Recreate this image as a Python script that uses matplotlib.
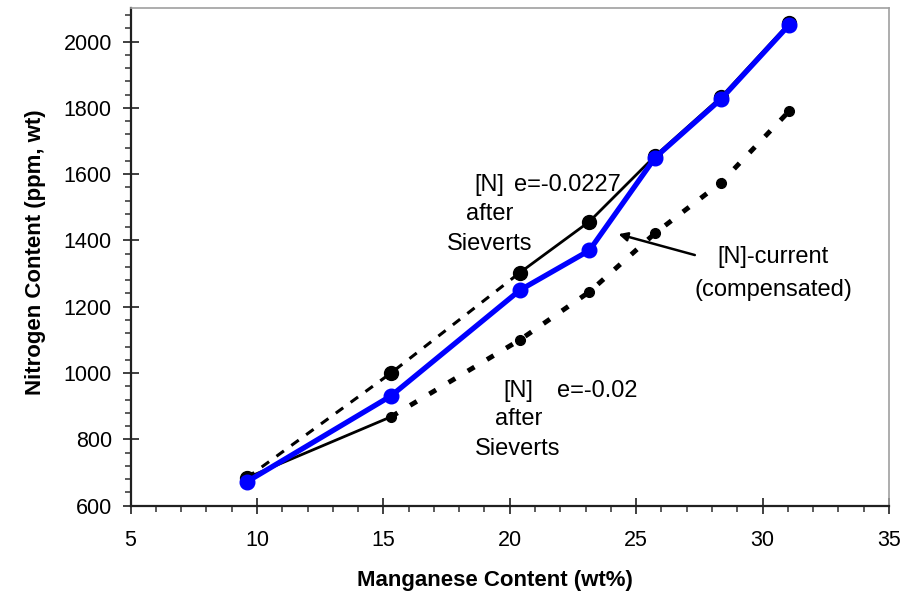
import numpy as np
import matplotlib
matplotlib.use('Agg')
import matplotlib.pyplot as plt

plt.rcParams['font.family'] = ['Liberation Sans', 'DejaVu Sans']

# manganese content, wt%
mn = [9.6, 15.3, 20.4, 23.15, 25.75, 28.35, 31.05]
# [N] after Sieverts, e = -0.0227
n_e0227 = [684, 1000, 1303, 1457, 1655, 1832, 2055]
# [N] after Sieverts, e = -0.02
n_e002 = [684, 868, 1100, 1245, 1422, 1574, 1790]
# [N]-current (compensated)
n_comp = [672, 931, 1250, 1370, 1650, 1826, 2050]

xticks = [5, 10, 15, 20, 25, 30, 35]
yticks = [600, 800, 1000, 1200, 1400, 1600, 1800, 2000]


def main():
    fig = plt.figure(figsize=(9.09, 5.99), dpi=100)
    ax = fig.add_axes([0.1436, 0.1558, 0.978 - 0.1436, 0.986 - 0.1558])

    # e=-0.0227 series: dashed for first two segments, solid afterwards
    ax.plot(mn[:3], n_e0227[:3], color='black', lw=2.2,
            linestyle=(0, (3, 3)), zorder=2)
    ax.plot(mn[2:], n_e0227[2:], color='black', lw=2.0, zorder=2)
    ax.plot(mn, n_e0227, 'o', color='black', ms=10, zorder=3)

    # e=-0.02 series: solid first segment, heavy dashes afterwards
    ax.plot(mn[:2], n_e002[:2], color='black', lw=2.0, zorder=2)
    ax.plot(mn[1:], n_e002[1:], color='black', lw=3.5,
            linestyle=(0, (1.6, 3.0)), zorder=2)
    ax.plot(mn[1:], n_e002[1:], 'o', color='black', ms=7, zorder=3)

    # compensated
    ax.plot(mn, n_comp, '-o', color='#0000ff', lw=3.8, ms=10.5,
            mec='#0000ff', zorder=4)

    ax.set_xlim(5, 35)
    ax.set_ylim(600, 2100)
    ax.set_xticks(xticks)
    ax.set_yticks(yticks)
    ax.set_xticks(np.arange(5, 36, 1), minor=True)
    ax.set_yticks(np.arange(600, 2101, 40), minor=True)
    ax.tick_params(which='major', direction='inout', length=11, width=1.2,
                   color='#202020', labelsize=15.5)
    ax.tick_params(which='minor', direction='out', length=4, width=1.2,
                   color='#404040')
    ax.tick_params(axis='x', which='major', pad=12)
    ax.tick_params(axis='y', which='major', pad=8)

    for side in ['top', 'right']:
        ax.spines[side].set_color('#a0a0a0')
        ax.spines[side].set_linewidth(1.2)
    for side in ['left', 'bottom']:
        ax.spines[side].set_color('#202020')
        ax.spines[side].set_linewidth(1.6)

    ax.set_xlabel('Manganese Content (wt%)', fontsize=16, fontweight='bold')
    ax.set_ylabel('Nitrogen Content (ppm, wt)', fontsize=16,
                  fontweight='bold')
    ax.xaxis.set_label_coords(0.48, -0.13)
    ax.yaxis.set_label_coords(-0.112, 0.51)

    fs = 17
    ax.text(19.19, 1568, '[N]', fontsize=fs, ha='center', va='center')
    ax.text(20.18, 1568, 'e=-0.0227', fontsize=fs, ha='left', va='center')
    ax.text(19.19, 1480, 'after', fontsize=fs, ha='center', va='center')
    ax.text(19.19, 1390, 'Sieverts', fontsize=fs, ha='center', va='center')

    ax.text(20.34, 945, '[N]', fontsize=fs, ha='center', va='center')
    ax.text(21.85, 945, 'e=-0.02', fontsize=fs, ha='left', va='center')
    ax.text(20.34, 860, 'after', fontsize=fs, ha='center', va='center')
    ax.text(20.3, 772, 'Sieverts', fontsize=fs, ha='center', va='center')

    ax.text(30.41, 1350, '[N]-current', fontsize=fs, ha='center', va='center')
    ax.text(30.41, 1251, '(compensated)', fontsize=fs, ha='center',
            va='center')
    ax.annotate('', xy=(24.3, 1419), xytext=(27.32, 1356),
                arrowprops=dict(arrowstyle='-|>', color='black', lw=1.8,
                                mutation_scale=13, shrinkA=0, shrinkB=0))

    fig.savefig('out.png', dpi=100)


if __name__ == '__main__':
    main()
